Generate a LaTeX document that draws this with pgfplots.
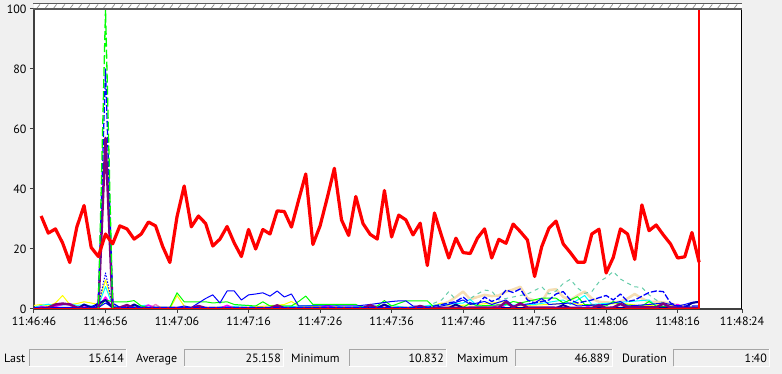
\documentclass[border=0pt]{standalone}
\usepackage{fontspec}
\setmainfont{PT Sans}
\usepackage{pgfplots}
\pgfplotsset{compat=1.18}
\definecolor{bg}{HTML}{F0F0F0}
\definecolor{axisgray}{HTML}{404040}
\definecolor{hatchgray}{HTML}{8C8C8C}
\definecolor{bandgray}{HTML}{5A5A5A}
\definecolor{cRed}{HTML}{FF0000}
\definecolor{cLime}{HTML}{00FF00}
\definecolor{cBlue}{HTML}{0000FF}
\definecolor{cPurple}{HTML}{800080}
\definecolor{cYellow}{HTML}{FFFF00}
\definecolor{cCyan}{HTML}{00FFFF}
\definecolor{cMagenta}{HTML}{FF00FF}
\definecolor{cPink}{HTML}{F080C0}
\definecolor{cNavy}{HTML}{0000A0}
\definecolor{cTan}{HTML}{F5DEB3}
\definecolor{cAqua}{HTML}{66CDAA}
\begin{document}
\begin{tikzpicture}[x=1pt,y=1pt]
\fill[bg] (0pt,0pt) rectangle (782pt,374pt);
\path[use as bounding box] (0pt,0pt) rectangle (782pt,374pt);
\begin{axis}[
  at={(34pt,65pt)}, anchor=south west,
  scale only axis, width=708pt, height=300pt,
  xmin=0, xmax=99, ymin=0, ymax=100,
  axis x line*=bottom, axis y line*=left,
  axis line style={draw=axisgray, line width=1.5pt},
  axis background/.style={fill=white},
  tick align=outside, major tick length=4pt,
  tick style={draw=axisgray, line width=1pt},
  xtick={0,10,20,30,40,50,60,70,80,90,99},
  xticklabels={11:46:46,11:46:56,11:47:06,11:47:16,11:47:26,11:47:36,11:47:46,11:47:56,11:48:06,11:48:16,11:48:24},
  ytick={0,20,40,60,80,100},
  ticklabel style={font=\fontsize{12}{14}\selectfont, text=black},
  /pgf/number format/assume math mode=true,
  every axis plot/.append style={line join=round, mark=none},
]
% low-level counters
\addplot[cTan, line width=2.5pt] coordinates {(0,0)(55,0)(56,1)(57,1.5)(58,2.4)(59,4)(60,5.8)(61,3.2)(62,4)(63,4.7)(64,4.3)(65,4.5)(66,5.8)(67,6.5)(68,7.4)(69,3.6)(70,2.8)(71,2.4)(72,6.3)(73,6.6)(74,4)(75,3)(76,4.5)(77,5.8)(78,3.5)(79,2.4)(80,2.2)(81,2.1)(82,2.5)(83,3.5)(84,5)(85,3.5)(86,2.4)(87,2.4)(88,2.2)(89,1.8)(90,1.3)(91,0.8)(92,0.5)(93,0.3)};
\addplot[cAqua, line width=1pt, dash pattern=on 4pt off 4pt] coordinates {(0,0)(50,0)(52,0.5)(55,1)(57,3)(58,5.8)(59,3)(60,2)(62,5)(63,6.3)(64,6)(65,3)(67,4)(69,5)(71,7.4)(72,5)(73,6)(74,8.5)(75,9.9)(76,7)(77,5.2)(78,5.8)(79,9)(80,10.5)(81,12.5)(82,10)(83,8.6)(84,7.4)(85,7.2)(86,4.7)(87,3)(88,2)(89,1)(90,0.5)(93,0.3)};
\addplot[cYellow, line width=1pt] coordinates {(0,1.2)(1,1.5)(2,1)(3,2)(4,4.5)(5,1.5)(6,1.8)(7,2.4)(8,2)(9,1.5)(10,9.7)(11,1.5)(12,0.5)(13,0)(19,0)(20,4.5)(21,1)(22,0.5)(30,0.5)(35,1.5)(36,2.5)(37,1)(45,0.5)(55,0.5)(57,2)(58,1)(62,1.5)(66,2.5)(67,1)(72,1.5)(75,2)(78,1)(82,2)(85,1)(88,1.5)(93,0.5)};
\addplot[cCyan, line width=1pt] coordinates {(0,0.5)(1,1.2)(2,1.6)(3,1)(4,1.3)(5,1.8)(6,1.2)(7,1.4)(8,1)(9,1)(10,7.5)(11,1)(12,0.5)(16,1.3)(17,0.5)(24,0.3)(30,1.2)(31,0.3)(42,1.5)(43,0.5)(50,1.2)(52,0.5)(60,2)(61,3.2)(62,1)(70,1.5)(74,3)(75,1.5)(77,4.5)(78,1.5)(86,3)(87,1)(93,0.5)};
\addplot[cPink, line width=1.5pt] coordinates {(0,0)(12,0)(13,0.8)(14,0)(16,0)(17,1.5)(18,0)(40,0)(41,1)(42,0)(84,0)(85,1.2)(86,0)(93,0)};
\addplot[cMagenta, line width=1.5pt] coordinates {(0,0)(1,0.8)(2,0.3)(4,1.5)(5,1.8)(6,0.5)(8,0.8)(9,0.3)(10,4)(11,0.3)(15,0.3)(16,1.3)(17,0.3)(26,0.3)(27,1.2)(28,0.3)(40,0.3)(41,1.3)(42,0.3)(48,0.3)(49,1.3)(50,0.3)(64,0.3)(65,1.5)(66,0.3)(77,0.3)(78,1.5)(79,0.3)(89,0.3)(90,1.5)(91,0.3)(93,0.3)};
\addplot[cLime, line width=1pt] coordinates {(0,0.3)(9,0.3)(10,3)(11,2.4)(12,2.4)(13,2.4)(14,2.8)(15,1)(16,0.5)(19,0.5)(20,5.4)(21,2.4)(24,2.4)(25,2)(27,2.4)(28,1.5)(31,1)(32,2.4)(33,1)(36,1)(37,2.5)(38,4.3)(39,1.5)(45,1.5)(46,0.5)(48,1)(49,2.8)(50,1)(52,2.7)(55,2.7)(56,0.5)(60,0.5)(61,2)(62,1)(66,1.5)(67,2.5)(68,2)(71,3.6)(72,3.6)(73,3.6)(74,2)(76,4.1)(77,1.5)(80,1)(81,2.5)(82,1.5)(85,1)(86,2.5)(87,1)(90,0.5)(91,0.3)(93,0.3)};
\addplot[cBlue, line width=1pt] coordinates {(0,0.5)(9,0.5)(10,2)(11,0.5)(20,0.5)(21,1)(22,0.5)(23,2)(24,3.5)(25,4.7)(26,2)(27,6)(28,6)(29,3)(30,4.7)(31,5)(32,5.4)(33,4.3)(34,6)(35,4)(36,5)(37,1)(38,1)(45,1)(47,1.5)(50,2.5)(51,2.7)(52,2.7)(53,1)(56,0.5)(58,1.5)(60,3)(61,1.5)(63,2.5)(64,1.5)(66,3)(67,1)(70,2)(71,3.5)(72,1.5)(75,2)(76,1)(80,1.5)(82,2.5)(83,1)(86,1.5)(88,2)(90,1)(91,1.5)(92,2.2)(93,2.5)};
\addplot[cBlue, line width=1pt, dash pattern=on 1.5pt off 1.5pt] coordinates {(7,0)(8,0.5)(9,1)(10,12)(11,1)(12,0)};
\addplot[cNavy, line width=2pt] coordinates {(0,0)(6,0)(7,1.5)(8,0.5)(10,3)(11,0.3)(13,0.3)(14,1.5)(15,0.3)(48,0.3)(49,1.5)(50,0.3)(58,0.3)(59,1.5)(60,0.3)(73,0.3)(74,1.3)(75,0.3)(91,0.5)(92,2)(93,2.4)};
% spiking counters
\addplot[cPurple, line width=2.5pt] coordinates {(0,0)(2,0.5)(3,1.5)(4,1.8)(5,1.5)(6,0.5)(8,0)(9,0)(10,57)(11,0)(12,0.5)(13,1.3)(14,0.3)(22,0.3)(23,1)(24,0.3)(33,0.3)(34,1.2)(35,0.3)(46,0.3)(47,1.3)(48,0.3)(53,0.3)(54,1)(55,0.3)(65,0.5)(66,2.4)(67,0.5)(68,1.9)(69,0.5)(78,0.3)(79,1.2)(80,0.3)(81,0.5)(82,1.7)(83,0.5)(87,0.5)(88,1.8)(89,0.5)(93,0.3)};
\addplot[cBlue, line width=1.3pt, dash pattern=on 6pt off 2pt] coordinates {(0,0.3)(8,0.3)(9,2)(10,80)(11,2)(12,0.5)(55,0.5)(57,1.5)(59,2.5)(60,4)(61,2)(62,1.5)(63,4)(64,2.5)(65,3.5)(66,6.3)(67,5.5)(68,6.7)(69,3)(70,2)(72,3)(73,5)(74,5.8)(75,3)(76,2)(78,3)(80,4.5)(81,3)(82,5)(83,2.5)(84,3)(86,5.5)(87,6)(88,5.8)(89,2)(90,1)(93,1)};
\addplot[cLime, line width=1.3pt, dash pattern=on 9pt off 3pt] coordinates {(8,0)(9,0)(10,100)(11,0)(12,0)};
% baseline counter at zero
\addplot[cRed, line width=2.5pt] coordinates {(0,0)(93,0)};
% main counter
\addplot[cRed, line width=3.2pt] coordinates {(1,31)(2,25.3)(3,26.7)(4,22)(5,15.5)(6,27.4)(7,34.5)(8,20.5)(9,17.5)(10,25)(11,21.7)(12,27.7)(13,26.7)(14,23.3)(15,25)(16,29)(17,27.7)(18,20.8)(19,15.5)(20,30.8)(21,41)(22,27.4)(23,31)(24,28.5)(25,21)(26,23.3)(27,27.5)(28,22)(29,17.5)(30,26.5)(31,20)(32,26.5)(33,25)(34,32.7)(35,32.5)(36,27.3)(37,36.3)(38,45)(39,21.5)(40,27.7)(41,37)(42,46.889)(43,29.7)(44,24.5)(45,37.5)(46,28.5)(47,24.9)(48,23.3)(49,39.5)(50,24)(51,31.3)(52,29.7)(53,24.7)(54,28.6)(55,14.5)(56,32)(57,24.3)(58,17)(59,23.6)(60,18.8)(61,18.5)(62,23.6)(63,26.7)(64,17)(65,23.2)(66,21.9)(67,28.3)(68,25.8)(69,23)(70,10.832)(71,20.8)(72,26.9)(73,29.3)(74,21.7)(75,18.8)(76,15.6)(77,15.6)(78,25)(79,26.6)(80,12)(81,17.2)(82,26.7)(83,25)(84,16.5)(85,34.7)(86,26.1)(87,28)(88,24.7)(89,21.7)(90,17)(91,17.4)(92,25.5)(93,15.614)};
% current time marker
\addplot[cRed, line width=1.2pt] coordinates {(93,0)(93,100)};
\end{axis}
% right border and top band
\draw[black, line width=1.6pt] (741.5pt,64.5pt) -- (741.5pt,370.8pt);
\fill[white] (34pt,365pt) rectangle (742pt,370.5pt);
\foreach \i in {0,...,84} {
  \draw[hatchgray, line width=0.7pt] ({37+\i*8.3},365.8) -- ++(3pt,3.8pt);
}
\draw[bandgray, line width=1.2pt] (33.3pt,370.3pt) -- (742.3pt,370.3pt);
\draw[bandgray, line width=2pt] (33.3pt,365.3pt) -- (742.3pt,365.3pt);
% statistics bar
\newcommand{\statbox}[3]{%
  \fill[bg] (#1pt,8pt) rectangle (#2pt,25pt);
  \draw[gray!70, line width=0.8pt] (#1pt,8pt) -- (#1pt,25pt) -- (#2pt,25pt);
  \draw[white, line width=0.8pt] (#1pt,8pt) -- (#2pt,8pt) -- (#2pt,25pt);
  \node[anchor=base east, inner sep=0, font=\fontsize{12}{14}\selectfont] at ({#2-2},11.5) {#3};
}
\statbox{29}{126}{15.614}
\statbox{184}{283}{25.158}
\statbox{349}{446}{10.832}
\statbox{515}{612}{46.889}
\statbox{673.5}{769}{1:40}
\begin{scope}[every node/.style={anchor=base west, inner sep=0, font=\fontsize{12}{14}\selectfont}]
\node at (4pt,11.5pt) {Last};
\node at (136pt,11.5pt) {Average};
\node at (291pt,11.5pt) {Minimum};
\node at (457pt,11.5pt) {Maximum};
\node at (622pt,11.5pt) {Duration};
\end{scope}
\end{tikzpicture}
\end{document}
